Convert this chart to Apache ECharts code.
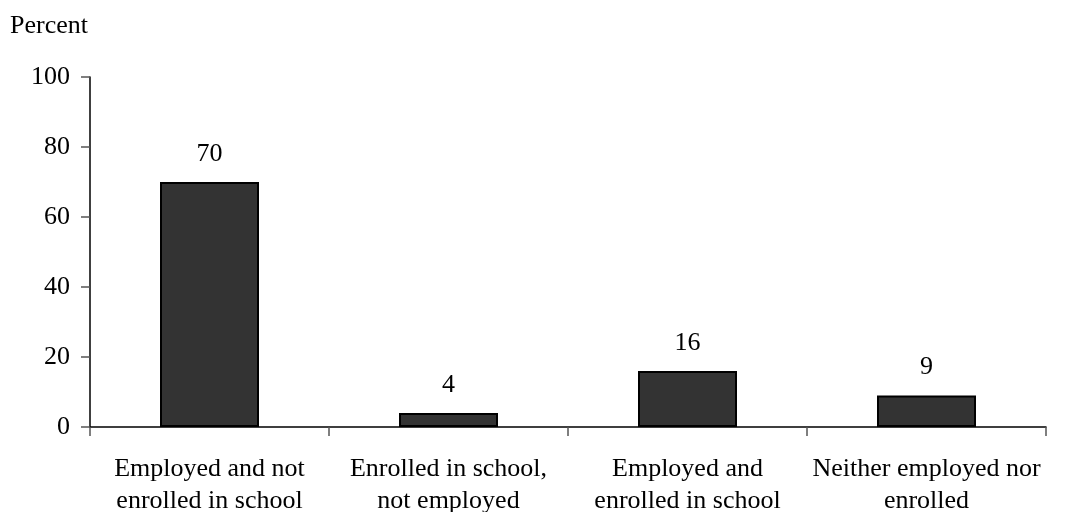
<!DOCTYPE html>
<html><head><meta charset="utf-8">
<script src="https://cdn.jsdelivr.net/npm/echarts@6/dist/echarts.min.js"></script>
<style>html,body{margin:0;padding:0;background:#fff}#c{width:1068px;height:512px}</style>
</head><body><div id="c"></div>
<script>
const categories = ['Employed and not\nenrolled in school', 'Enrolled in school,\nnot employed', 'Employed and\nenrolled in school', 'Neither employed nor\nenrolled'];
const values = [70, 4, 16, 9];
const yTicks = [0, 20, 40, 60, 80, 100];
const FONT = '"Liberation Serif", "Times New Roman", serif';
const chart = echarts.init(document.getElementById('c'));
chart.setOption({
  animation: false,
  grid: { left: 90, right: 22, top: 77, bottom: 85, outerBoundsMode: 'none', containLabel: false },
  graphic: [{ type: 'text', left: 10, top: 13, style: { text: 'Percent', font: '26px ' + FONT, fill: '#000' } }],
  xAxis: {
    type: 'category', data: categories,
    axisLine: { lineStyle: { color: '#000', width: 1.5 } },
    axisTick: { show: true, length: 9, lineStyle: { color: '#555', width: 1.5 } },
    axisLabel: { fontFamily: FONT, fontSize: 26, color: '#000', margin: 26, lineHeight: 32, interval: 0 }
  },
  yAxis: {
    type: 'value', min: yTicks[0], max: yTicks[yTicks.length - 1], interval: 20,
    axisLine: { show: true, lineStyle: { color: '#000', width: 1.5 } },
    axisTick: { show: true, length: 9, lineStyle: { color: '#555', width: 1.5 } },
    splitLine: { show: false },
    axisLabel: { fontFamily: FONT, fontSize: 26, color: '#000', margin: 20 }
  },
  series: [{
    type: 'bar', data: values, barWidth: 99,
    itemStyle: { color: '#333333', borderColor: '#000', borderWidth: 2 },
    label: { show: true, position: 'top', distance: 15, fontFamily: FONT, fontSize: 26, color: '#000' }
  }]
});
</script></body></html>
